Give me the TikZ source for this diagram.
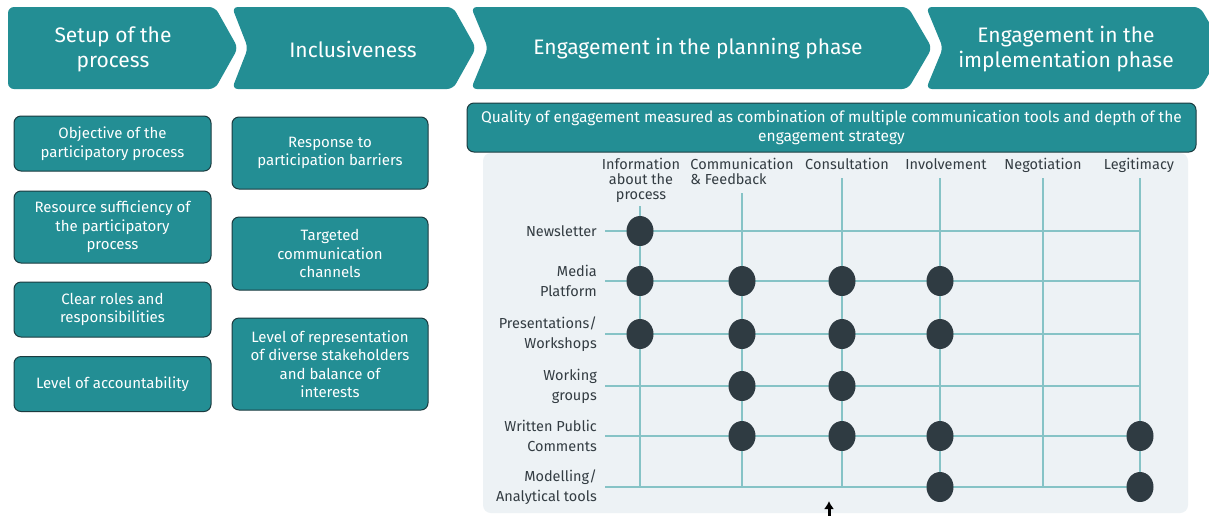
\documentclass[tikz,border=0pt]{standalone}
\usepackage{fontspec}
\setmainfont{Fira Sans}
\usetikzlibrary{arrows.meta,shapes.geometric}
\definecolor{tealc}{HTML}{238E94}
\definecolor{boxline}{HTML}{1B3B3F}
\definecolor{panel}{HTML}{EDF2F5}
\definecolor{gridc}{HTML}{86C3C6}
\definecolor{dotc}{HTML}{2F3B42}
\definecolor{labc}{HTML}{333C42}
\tikzset{
  chev/.style={fill=tealc, rounded corners=6pt},
  chevtext/.style={text=white, font=\fontsize{21}{25}\selectfont, align=center, inner sep=0pt},
  ibox/.style={draw=boxline, line width=1pt, fill=tealc, rounded corners=7pt, text=white,
    font=\fontsize{15}{18.5}\selectfont, align=center, inner sep=0pt},
  gline/.style={draw=gridc, line width=1.2pt},
  gdot/.style={ellipse, fill=dotc, minimum width=27pt, minimum height=30pt, inner sep=0pt},
  hlab/.style={text=labc, font=\fontsize{14.5}{15}\selectfont, align=center, inner sep=0pt, anchor=north},
  rlab/.style={text=labc, font=\fontsize{14.5}{20}\selectfont, align=right, inner sep=0pt, anchor=east},
}
\begin{document}
\begin{tikzpicture}[x=1pt,y=-1pt]
\useasboundingbox (0,0) rectangle (1209,515);
\fill[white] (0,0) rectangle (1209,515);
% chevrons
\begin{scope}
\clip (0,0) rectangle (1209,515);
\fill[chev] (8,7) -- (215,7) -- (238,48) -- (215,89) -- (8,89) -- cycle;
\fill[chev] (232,7) -- (453,7) -- (476,48) -- (453,89) -- (232,89) -- (248,48) -- cycle;
\fill[chev] (471,7) -- (908,7) -- (932,48) -- (908,89) -- (471,89) -- (488,48) -- cycle;
\fill[chev] (926,7) -- (1200,7) -- (1224,48) -- (1200,89) -- (926,89) -- (943,48) -- cycle;
\end{scope}
\node[chevtext] (t1) at (113,49) {Setup of the\\process};
\node[chevtext] (t2) at (353,49) {Inclusiveness};
\node[chevtext] (t3) at (698,49) {Engagement in the planning phase};
\node[chevtext] (t4) at (1066,49) {Engagement in the\\implementation phase};
% left boxes
\node[ibox, minimum width=197pt, minimum height=55pt] (b1) at (112.5,143.5) {Objective of the\\participatory process};
\node[ibox, minimum width=197pt, minimum height=72pt] (b2) at (112.5,227) {Resource sufficiency of\\the participatory\\process};
\node[ibox, minimum width=197pt, minimum height=55pt] (b3) at (112.5,309.5) {Clear roles and\\responsibilities};
\node[ibox, minimum width=197pt, minimum height=55pt] (b4) at (112.5,384) {Level of accountability};
\node[ibox, minimum width=196pt, minimum height=72pt] (b5) at (330,153) {Response to\\participation barriers};
\node[ibox, minimum width=196pt, minimum height=73pt] (b6) at (330,253.5) {Targeted\\communication\\channels};
\node[ibox, minimum width=196pt, minimum height=92pt] (b7) at (330,364) {Level of representation\\of diverse stakeholders\\and balance of\\interests};
% quality box
\node[ibox, minimum width=729pt, minimum height=49pt, font=\fontsize{15.5}{19}\selectfont] (q) at (831.5,127.5) {Quality of engagement measured as combination of multiple communication tools and depth of the\\engagement strategy};
% panel
\fill[panel, rounded corners=8pt] (483,153) rectangle (1188,513);
% headers
\node[hlab] (h1) at (641,158) {Information\\about the\\process};
\node[hlab, align=left] (h2) at (742,158) {Communication\\\& Feedback};
\node[hlab] (h3) at (847,158) {Consultation};
\node[hlab] (h4) at (946,158) {Involvement};
\node[hlab] (h5) at (1043,158) {Negotiation};
\node[hlab] (h6) at (1139,158) {Legitimacy};
% coordinates
\foreach \c/\x in {1/640,2/742,3/842,4/940,5/1043,6/1140}{
  \foreach \r/\y in {1/231,2/281,3/334,4/386,5/436,6/487}{
    \coordinate (p\r\c) at (\x,\y);
  }
}
\coordinate (v1) at (640,206);
\coordinate (v2) at (742,193);
\coordinate (v3) at (842,178);
\coordinate (v4) at (940,178);
\coordinate (v5) at (1043,178);
\coordinate (v6) at (1140,178);
\foreach \r/\y in {1/231,2/281,3/334,4/386,5/436,6/487}{
  \coordinate (s\r) at (605,\y);
  \draw[gline] (s\r) -- (p\r6);
}
\foreach \c in {1,...,6}{
  \draw[gline] (v\c) -- (p6\c);
}
% row labels
\node[rlab] (l1) at (597,231) {Newsletter};
\node[rlab] (l2) at (597,281) {Media\\Platform};
\node[rlab] (l3) at (597,334) {Presentations/\\Workshops};
\node[rlab] (l4) at (597,386) {Working\\groups};
\node[rlab] (l5) at (597,436) {Written Public\\Comments};
\node[rlab] (l6) at (597,487) {Modelling/\\Analytical tools};
% dots
\foreach \rc in {11,21,22,23,24,31,32,33,34,42,43,52,53,54,56,64,66}{
  \node[gdot] (d\rc) at (p\rc) {};
}
% arrow
\coordinate (a0) at (829,516);
\coordinate (a1) at (829,501);
\draw[-{Latex[length=8pt,width=10pt]}, line width=3pt] (a0) -- (a1);
\end{tikzpicture}
\end{document}
